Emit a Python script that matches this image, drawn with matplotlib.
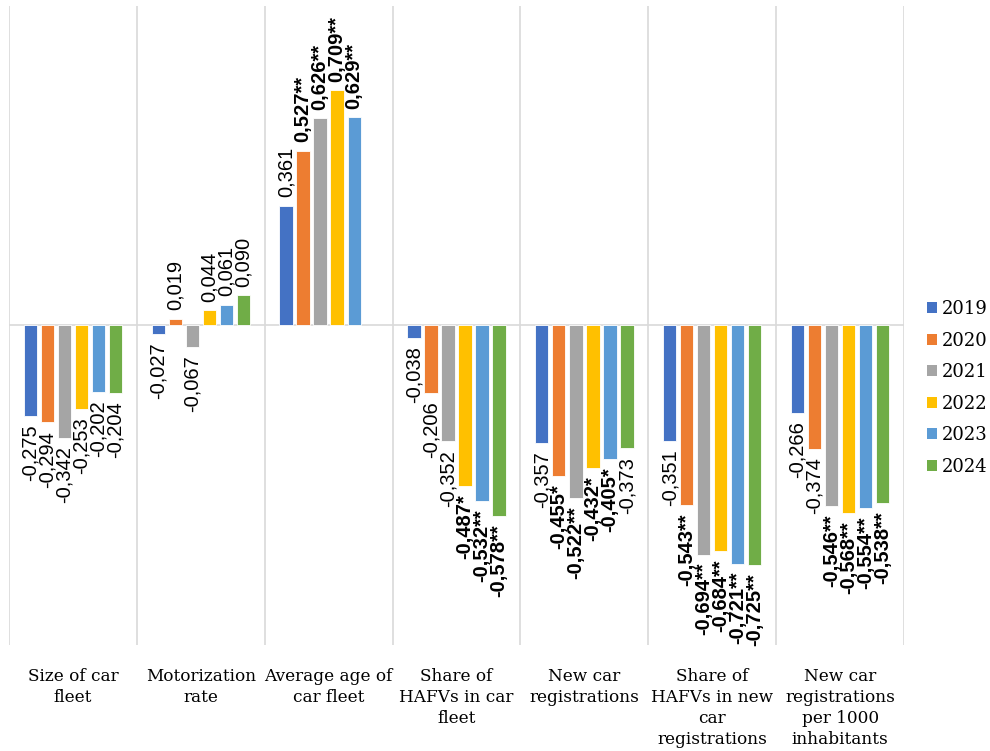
import numpy as np
import matplotlib
matplotlib.use("Agg")
import matplotlib.pyplot as plt
from matplotlib.patches import Patch

# Categories and correlation values per year
CATEGORIES = [
    "Size of car\nfleet",
    "Motorization\nrate",
    "Average age of\ncar fleet",
    "Share of\nHAFVs in car\nfleet",
    "New car\nregistrations",
    "Share of\nHAFVs in new\ncar\nregistrations",
    "New car\nregistrations\nper 1000\ninhabitants",
]
YEARS = ["2019", "2020", "2021", "2022", "2023", "2024"]

VALUES_2019 = [-0.275, -0.027, 0.361, -0.038, -0.357, -0.351, -0.266]
VALUES_2020 = [-0.294, 0.019, 0.527, -0.206, -0.455, -0.543, -0.374]
VALUES_2021 = [-0.342, -0.067, 0.626, -0.352, -0.522, -0.694, -0.546]
VALUES_2022 = [-0.253, 0.044, 0.709, -0.487, -0.432, -0.684, -0.568]
VALUES_2023 = [-0.202, 0.061, 0.629, -0.532, -0.405, -0.721, -0.554]
VALUES_2024 = [-0.204, 0.090, np.nan, -0.578, -0.373, -0.725, -0.538]

# Significance markers (same layout as values)
SIG_2019 = ["", "", "", "", "", "", ""]
SIG_2020 = ["", "", "**", "", "*", "**", ""]
SIG_2021 = ["", "", "**", "", "**", "**", "**"]
SIG_2022 = ["", "", "**", "*", "*", "**", "**"]
SIG_2023 = ["", "", "**", "**", "*", "**", "**"]
SIG_2024 = ["", "", "", "**", "", "**", "**"]

COLORS = ["#4472C4", "#ED7D31", "#A5A5A5", "#FFC000", "#5B9BD5", "#70AD47"]

series = [VALUES_2019, VALUES_2020, VALUES_2021, VALUES_2022, VALUES_2023, VALUES_2024]
sigs = [SIG_2019, SIG_2020, SIG_2021, SIG_2022, SIG_2023, SIG_2024]

fig = plt.figure(figsize=(9.9, 7.51), dpi=100)
ax = fig.add_axes([9 / 990, 1 - 645 / 751, 895 / 990, 639 / 751])

n_cat = len(CATEGORIES)
x = np.arange(n_cat)
slot = 0.133
width = 0.104

for j, (vals, sig, color) in enumerate(zip(series, sigs, COLORS)):
    xpos = x + (j - 2.5) * slot
    ax.bar(xpos, vals, width=width, color=color, edgecolor="white",
           linewidth=0.6, zorder=3)
    for xi, v, s in zip(xpos, vals, sig):
        if np.isnan(v):
            continue
        label = f"{v:.3f}".replace(".", ",") + s
        off = 6 if v >= 0 else -6
        ax.annotate(label, (xi, v), xytext=(0, off), textcoords="offset points",
                    rotation=90, ha="center", va="bottom" if v >= 0 else "top",
                    fontsize=14.5, family="Liberation Sans",
                    fontweight="bold" if s else "normal", color="black",
                    zorder=4)

ax.set_xlim(-0.5, n_cat - 0.5)
ax.set_ylim(-0.967, 0.964)
for b in np.arange(n_cat + 1) - 0.5:
    ax.axvline(b, color="#d9d9d9", linewidth=1.2, zorder=1)
ax.axhline(0, color="#d9d9d9", linewidth=1.2, zorder=2)

for s in ax.spines.values():
    s.set_visible(False)
ax.set_xticks([])
ax.set_yticks([])

# Category labels below plot area
for xi, cat in zip(x, CATEGORIES):
    ax.text(xi, -0.036, cat, transform=ax.get_xaxis_transform(),
            ha="center", va="top", fontsize=12.2, family="DejaVu Serif",
            linespacing=1.3, color="black")

handles = [Patch(facecolor=c, edgecolor="none", label=y) for c, y in zip(COLORS, YEARS)]
fig.legend(handles=handles, loc="center left", bbox_to_anchor=(927 / 990, 1 - 388 / 751),
           frameon=False, prop={"family": "DejaVu Serif", "size": 13},
           handlelength=0.55, handleheight=0.55, handletextpad=0.25, labelspacing=0.75,
           borderpad=0, borderaxespad=0)

fig.savefig("out.png", dpi=100, facecolor="white")
